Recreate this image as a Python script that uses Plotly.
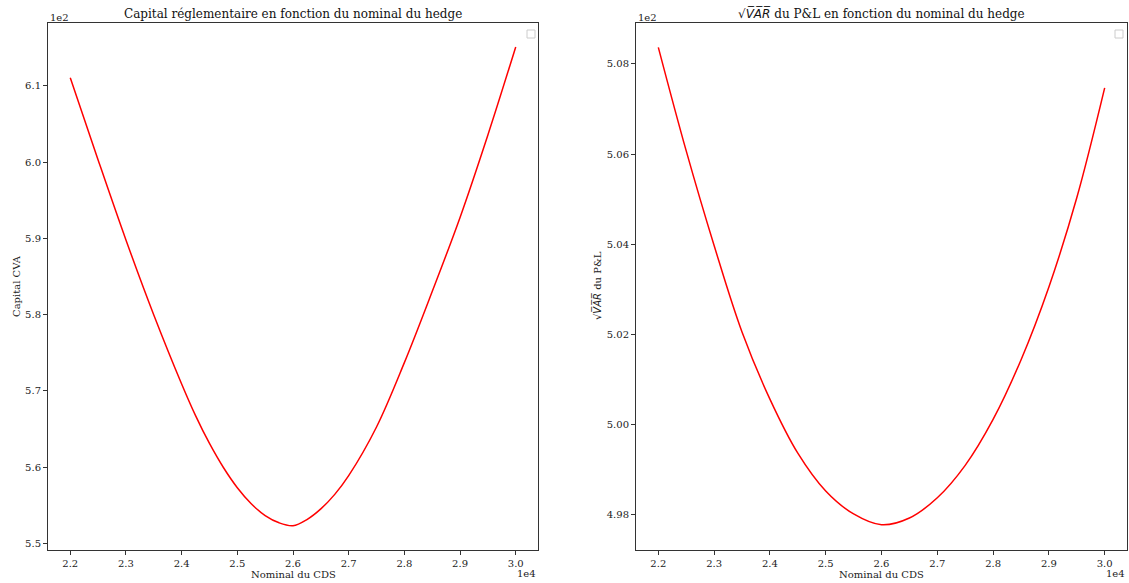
import plotly.graph_objects as go

# ---- data ----
nominal = [22000, 22500, 23000, 23500, 24000, 24250, 24500, 24750, 25000, 25250, 25500, 25750,
           26000, 26250, 26500, 26750, 27000, 27500, 28000, 28500, 29000, 29500, 30000]
capital_cva = [611.06, 600.28, 589.79, 579.96, 570.92, 566.77, 563.12, 559.97, 557.32, 555.22, 553.67, 552.72,
               552.35, 553.15, 554.55, 556.45, 558.90, 565.28, 573.71, 583.03, 592.74, 603.55, 615.08]

nominal_var = [22000, 22500, 23000, 23500, 24000, 24500, 25000, 25500, 26000,
               26500, 27000, 27500, 28000, 28500, 29000, 29500, 30000]
sqrt_var = [508.37, 506.07, 503.97, 502.05, 500.56, 499.36, 498.52, 498.01, 497.77,
            497.92, 498.37, 499.09, 500.11, 501.43, 503.05, 505.03, 507.47]

x_ticks = [22000, 23000, 24000, 25000, 26000, 27000, 28000, 29000, 30000]
x_ticktext = ["2.2", "2.3", "2.4", "2.5", "2.6", "2.7", "2.8", "2.9", "3.0"]
y1_ticks = [550, 560, 570, 580, 590, 600, 610]
y1_ticktext = ["5.5", "5.6", "5.7", "5.8", "5.9", "6.0", "6.1"]
y2_ticks = [498, 500, 502, 504, 506, 508]
y2_ticktext = ["4.98", "5.00", "5.02", "5.04", "5.06", "5.08"]

W, H = 1129, 583
FONT = "DejaVu Serif"

def px(x):
    return x / W

def py(y):
    return 1 - y / H

fig = go.Figure()
fig.add_trace(go.Scatter(x=nominal, y=capital_cva, mode="lines", line=dict(color="red", width=1.5, shape="spline"),
                         xaxis="x", yaxis="y", showlegend=False))
fig.add_trace(go.Scatter(x=nominal_var, y=sqrt_var, mode="lines", line=dict(color="red", width=1.5, shape="spline"),
                         xaxis="x2", yaxis="y2", showlegend=False))

axis_common = dict(showgrid=False, zeroline=False, showline=True, linecolor="#333", linewidth=1,
                   mirror=True, ticks="outside", ticklen=4, tickcolor="#333", tickwidth=1,
                   tickfont=dict(family=FONT, size=10, color="#222"), automargin=False)

fig.update_layout(
    width=W, height=H,
    margin=dict(l=0, r=0, t=0, b=0),
    paper_bgcolor="white", plot_bgcolor="white",
    font=dict(family=FONT, color="#222"),
    xaxis=dict(domain=[px(48), px(538)], range=[21600, 30400], tickvals=x_ticks, ticktext=x_ticktext,
               anchor="y", **axis_common),
    yaxis=dict(domain=[py(550), py(23)], range=[549.16, 618.22], tickvals=y1_ticks, ticktext=y1_ticktext,
               anchor="x", **axis_common),
    xaxis2=dict(domain=[px(636), px(1127)], range=[21600, 30400], tickvals=x_ticks, ticktext=x_ticktext,
                anchor="y2", **axis_common),
    yaxis2=dict(domain=[py(550), py(23)], range=[497.21, 508.91], tickvals=y2_ticks, ticktext=y2_ticktext,
                anchor="x2", **axis_common),
)

ann = []
# titles
ann.append(dict(text="Capital réglementaire en fonction du nominal du hedge", x=px(293), y=py(14),
                font=dict(size=12, family=FONT, color="#111")))
ann.append(dict(text="√<span style='font-family:DejaVu Sans'><i>V̅A̅R̅</i></span> du P&L en fonction du nominal du hedge",
                x=px(881), y=py(13), font=dict(size=12, family=FONT, color="#111")))
# x axis titles
ann.append(dict(text="Nominal du CDS", x=px(293), y=py(574), font=dict(size=10, family=FONT)))
ann.append(dict(text="Nominal du CDS", x=px(881), y=py(574), font=dict(size=10, family=FONT)))
# y axis titles
ann.append(dict(text="Capital CVA", x=px(16), y=py(286), textangle=-90, font=dict(size=10, family=FONT)))
ann.append(dict(text="√<span style='font-family:DejaVu Sans'><i>V̅A̅R̅</i></span> du P&L", x=px(597), y=py(286),
                textangle=-90, font=dict(size=10, family=FONT)))
# offset texts
ann.append(dict(text="1e2", x=px(48), y=py(18), xanchor="left", font=dict(size=10, family=FONT)))
ann.append(dict(text="1e2", x=px(636), y=py(18), xanchor="left", font=dict(size=10, family=FONT)))
ann.append(dict(text="1e4", x=px(538), y=py(573), xanchor="right", font=dict(size=10, family=FONT)))
ann.append(dict(text="1e4", x=px(1127), y=py(573), xanchor="right", font=dict(size=10, family=FONT)))

for a in ann:
    a.setdefault("xanchor", "center")
    a.update(xref="paper", yref="paper", yanchor="middle", showarrow=False)
fig.update_layout(annotations=ann)

# empty legend boxes (matplotlib legend without handles)
for (x0, x1) in [(527, 535), (1115, 1123)]:
    fig.add_shape(type="rect", xref="paper", yref="paper", x0=px(x0), x1=px(x1), y0=py(38), y1=py(30),
                  line=dict(color="#ccc", width=1), fillcolor="white")

fig.write_html("out.html", config={"displayModeBar": False},
               post_script="document.body.style.margin='0';document.body.style.overflow='hidden';")
